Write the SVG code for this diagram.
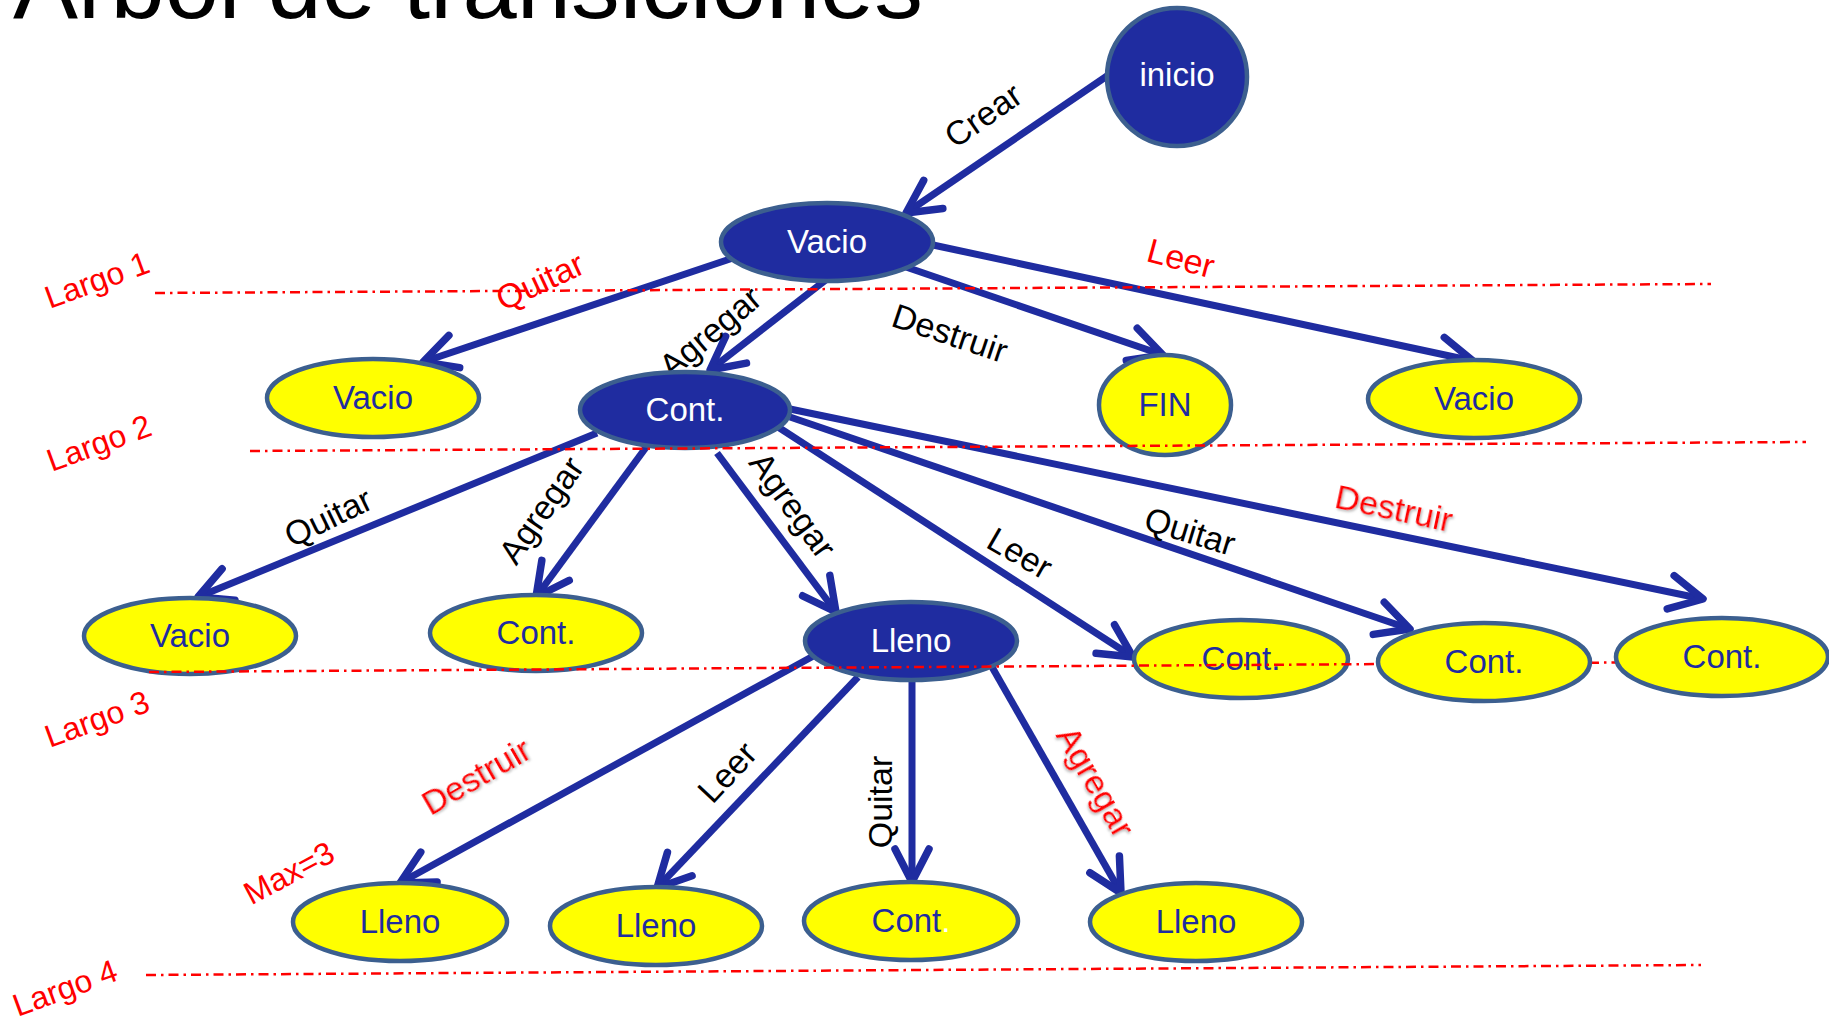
<svg xmlns="http://www.w3.org/2000/svg" width="1829" height="1021" viewBox="0 0 1829 1021">
<style>
text{font-family:"Liberation Sans",Arial,sans-serif;text-anchor:middle}
.dk{fill:#1f2ca0;stroke:#3c5f8f;stroke-width:4.5}
.yl{fill:#ffff00;stroke:#3c5f8f;stroke-width:4.5}
.tw{fill:#ffffff;font-size:33px}
.tb{fill:#1f2ca0;font-size:33px}
.conn{stroke:#1f2ca0;stroke-width:7;fill:none;marker-end:url(#arr)}
.lbl{font-size:34px;fill:#000000}
.red{fill:#ff0000}
.guide{stroke:#ff0000;stroke-width:2.5;stroke-dasharray:10 5 2.5 5;fill:none}
.lg{font-size:32px;fill:#ff0000}
</style>
<defs>
<marker id="arr" markerUnits="userSpaceOnUse" viewBox="-40 -25 50 50" markerWidth="50" markerHeight="50" refX="0" refY="0" orient="auto">
<path d="M-33,-17 L0,0 L-33,17" fill="none" stroke="#1f2ca0" stroke-width="7.5" stroke-linecap="round" stroke-linejoin="round"/>
</marker>
<filter id="sh" x="-10%" y="-10%" width="130%" height="140%">
<feDropShadow dx="1.5" dy="1.5" stdDeviation="1" flood-color="#888888" flood-opacity="0.6"/>
</filter>
</defs>

<text x="13" y="18" font-size="97" textLength="910" lengthAdjust="spacingAndGlyphs" style="text-anchor:start" fill="#000">Arbol de transiciones</text>

<g id="connectors">
<line class="conn" x1="1107" y1="76" x2="906" y2="213"/>
<line class="conn" x1="733" y1="258" x2="423" y2="362"/>
<line class="conn" x1="827" y1="279" x2="710" y2="370"/>
<line class="conn" x1="903" y1="266" x2="1163" y2="355"/>
<line class="conn" x1="933" y1="245" x2="1473" y2="361"/>
<line class="conn" x1="597" y1="433" x2="198" y2="597"/>
<line class="conn" x1="647" y1="446" x2="536" y2="597"/>
<line class="conn" x1="717" y1="453" x2="836" y2="612"/>
<line class="conn" x1="778" y1="427" x2="1133" y2="657"/>
<line class="conn" x1="790" y1="417" x2="1410" y2="629"/>
<line class="conn" x1="790" y1="409" x2="1703" y2="599"/>
<line class="conn" x1="817" y1="654" x2="400" y2="883"/>
<line class="conn" x1="858" y1="677" x2="657" y2="888"/>
<line class="conn" x1="912" y1="675" x2="912" y2="882"/>
<line class="conn" x1="992" y1="667" x2="1121" y2="893"/>

<text class="lbl" transform="translate(983,115) rotate(-35)" y="12">Crear</text>
<text class="lbl red" transform="translate(540,281) rotate(-25)" y="12">Quitar</text>
<text class="lbl" transform="translate(710,332) rotate(-40)" y="12">Agregar</text>
<text class="lbl" transform="translate(950,333) rotate(18.5)" y="12">Destruir</text>
<text class="lbl red" transform="translate(1181,258) rotate(15)" y="12">Leer</text>
<text class="lbl" transform="translate(328,517) rotate(-26)" y="12">Quitar</text>
<text class="lbl" transform="translate(541,510) rotate(-55)" y="12">Agregar</text>
<text class="lbl" transform="translate(793,505) rotate(54)" y="12">Agregar</text>
<text class="lbl" transform="translate(1020,553) rotate(30)" y="12">Leer</text>
<text class="lbl" transform="translate(1190,531) rotate(17)" y="12">Quitar</text>
<text class="lbl red" filter="url(#sh)" transform="translate(1394,508) rotate(12)" y="12">Destruir</text>
<text class="lbl red" filter="url(#sh)" transform="translate(476,776) rotate(-30)" y="12">Destruir</text>
<text class="lbl" transform="translate(727,772) rotate(-47)" y="12">Leer</text>
<text class="lbl" transform="translate(880,802) rotate(-90)" y="12">Quitar</text>
<text class="lbl red" filter="url(#sh)" font-size="32" transform="translate(1095,782) rotate(60)" y="11">Agregar</text>
</g>

<g id="n-inicio"><ellipse class="dk" cx="1177" cy="77" rx="70" ry="69"/><text class="tw" x="1177" y="86" font-size="26">inicio</text></g>
<g id="n-vacio0"><ellipse class="dk" cx="827" cy="242" rx="106" ry="39"/><text class="tw" x="827" y="253">Vacio</text></g>
<g id="n-vacio1"><ellipse class="yl" cx="373" cy="398" rx="106" ry="39"/><text class="tb" x="373" y="409">Vacio</text></g>
<g id="n-cont0"><ellipse class="dk" cx="685" cy="410" rx="105" ry="38"/><text class="tw" x="685" y="421">Cont.</text></g>
<g id="n-fin"><ellipse class="yl" cx="1165" cy="405" rx="66" ry="50"/><text class="tb" x="1165" y="416">FIN</text></g>
<g id="n-vacio2"><ellipse class="yl" cx="1474" cy="399" rx="106" ry="39"/><text class="tb" x="1474" y="410">Vacio</text></g>
<g id="n-vacio3"><ellipse class="yl" cx="190" cy="636" rx="106" ry="38"/><text class="tb" x="190" y="647">Vacio</text></g>
<g id="n-cont1"><ellipse class="yl" cx="536" cy="633" rx="106" ry="38"/><text class="tb" x="536" y="644">Cont.</text></g>
<g id="n-lleno0"><ellipse class="dk" cx="911" cy="641" rx="106" ry="39"/><text class="tw" x="911" y="652">Lleno</text></g>
<g id="n-cont2"><ellipse class="yl" cx="1241" cy="659" rx="107" ry="39"/><text class="tb" x="1241" y="670">Cont.</text></g>
<g id="n-lleno1"><ellipse class="yl" cx="400" cy="922" rx="107" ry="39"/><text class="tb" x="400" y="933">Lleno</text></g>
<g id="n-lleno2"><ellipse class="yl" cx="656" cy="926" rx="106" ry="39"/><text class="tb" x="656" y="937">Lleno</text></g>
<g id="n-cont5"><ellipse class="yl" cx="911" cy="921" rx="107" ry="39"/><text class="tb" x="911" y="932">Cont<tspan fill="#ffffff">.</tspan></text></g>
<g id="n-lleno3"><ellipse class="yl" cx="1196" cy="922" rx="106" ry="39"/><text class="tb" x="1196" y="933">Lleno</text></g>

<g id="levels">
<line class="guide" x1="155" y1="293" x2="1711" y2="284"/>
<line class="guide" x1="250" y1="451" x2="1806" y2="442"/>
<line class="guide" x1="149" y1="672" x2="1700" y2="662"/>
<line class="guide" x1="146" y1="975" x2="1701" y2="965"/>
<text class="lg" transform="translate(97,280) rotate(-20)" y="11">Largo 1</text>
<text class="lg" transform="translate(99,443) rotate(-20)" y="11">Largo 2</text>
<text class="lg" transform="translate(97,719) rotate(-20)" y="11">Largo 3</text>
<text class="lg" transform="translate(65,988) rotate(-20)" y="11">Largo 4</text>
<text class="lg" transform="translate(289,873) rotate(-28)" y="11">Max=3</text>
</g>

<g id="n-cont3"><ellipse class="yl" cx="1484" cy="662" rx="106" ry="39"/><text class="tb" x="1484" y="673">Cont.</text></g>
<g id="n-cont4"><ellipse class="yl" cx="1722" cy="657" rx="106" ry="39"/><text class="tb" x="1722" y="668">Cont.</text></g>
</svg>
